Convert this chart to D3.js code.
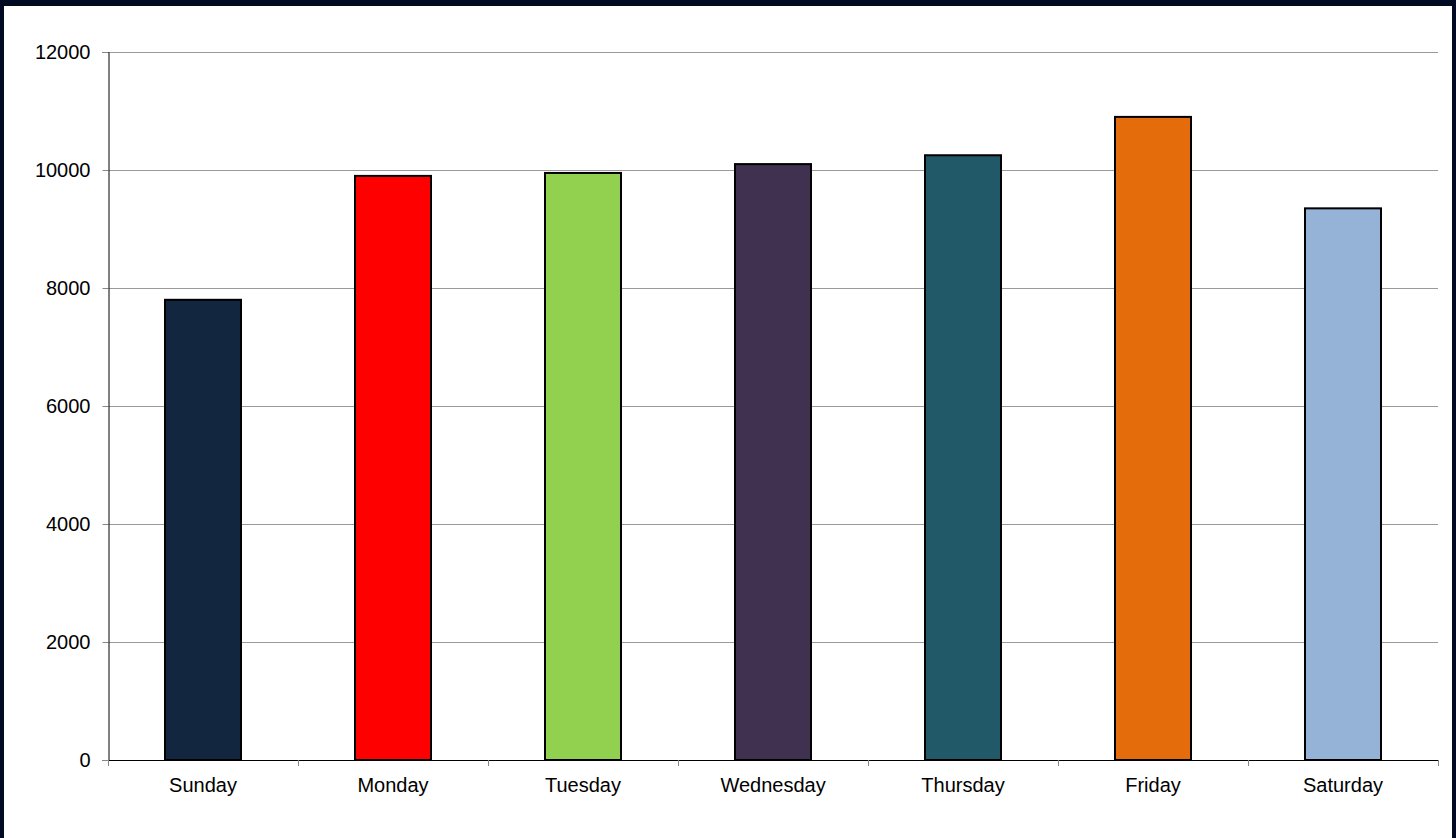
<!DOCTYPE html>
<html>
<head>
<meta charset="utf-8">
<script src="https://cdn.jsdelivr.net/npm/d3@7"></script>
<style>
  html, body { margin: 0; padding: 0; background: #000a22; }
  svg { display: block; }
</style>
</head>
<body>
<svg width="1456" height="838"></svg>
<script>
const days = ["Sunday", "Monday", "Tuesday", "Wednesday", "Thursday", "Friday", "Saturday"];
const counts = [7800, 9900, 9950, 10100, 10250, 10900, 9350];
const colours = ["#12263f", "#ff0000", "#92d050", "#403151", "#215968", "#e46c0a", "#95b3d7"];
const yTicks = [0, 2000, 4000, 6000, 8000, 10000, 12000];

const svg = d3.select("svg");
const plotLeft = 108, plotRight = 1438, plotTop = 52, plotBottom = 760;
const font = "Liberation Sans, Arial, sans-serif";

// white chart panel inside the dark frame
svg.append("rect")
  .attr("x", 4).attr("y", 6)
  .attr("width", 1448).attr("height", 832)
  .attr("fill", "#fff");

const x = d3.scaleBand().domain(days).range([plotLeft, plotRight]);
const y = d3.scaleLinear().domain([0, 12000]).range([plotBottom, plotTop]);

// gridlines
svg.append("g")
  .selectAll("line")
  .data(yTicks.filter((t) => t > 0))
  .join("line")
  .attr("x1", plotLeft).attr("x2", plotRight)
  .attr("y1", (d) => y(d) + 0.5).attr("y2", (d) => y(d) + 0.5)
  .attr("stroke", "#9a9a9a")
  .attr("stroke-width", 1);

// y axis
const yAxis = svg.append("g")
  .attr("transform", `translate(${plotLeft + 0.5},0)`)
  .call(d3.axisLeft(y).tickValues(yTicks).tickSize(6).tickPadding(12).tickFormat(d3.format("d")));
yAxis.select(".domain").attr("stroke", "#000");
yAxis.selectAll(".tick line").attr("stroke", "#888");
yAxis.selectAll("text")
  .attr("font-family", font)
  .attr("font-size", 20)
  .attr("fill", "#000");

// bars
svg.append("g")
  .selectAll("rect")
  .data(days.map((d, i) => ({ day: d, v: counts[i], c: colours[i] })))
  .join("rect")
  .attr("x", (d) => x(d.day) + x.bandwidth() * 0.3)
  .attr("width", x.bandwidth() * 0.4)
  .attr("y", (d) => y(d.v))
  .attr("height", (d) => plotBottom - y(d.v))
  .attr("fill", (d) => d.c)
  .attr("stroke", "#000")
  .attr("stroke-width", 2);

// x axis
const xAxis = svg.append("g")
  .attr("transform", `translate(0,${plotBottom + 0.5})`)
  .call(d3.axisBottom(x).tickSize(0).tickPadding(17));
xAxis.select(".domain").attr("stroke", "#000").attr("d", `M${plotLeft},0H${plotRight}`);
xAxis.selectAll("text")
  .attr("font-family", font)
  .attr("font-size", 20)
  .attr("fill", "#000");

// category boundary ticks
svg.append("g")
  .selectAll("line")
  .data(days.concat(["end"]))
  .join("line")
  .attr("x1", (d, i) => (i < days.length ? x(d) : plotRight) + 0.5)
  .attr("x2", (d, i) => (i < days.length ? x(d) : plotRight) + 0.5)
  .attr("y1", plotBottom)
  .attr("y2", plotBottom + 6)
  .attr("stroke", "#888");
</script>
</body>
</html>
